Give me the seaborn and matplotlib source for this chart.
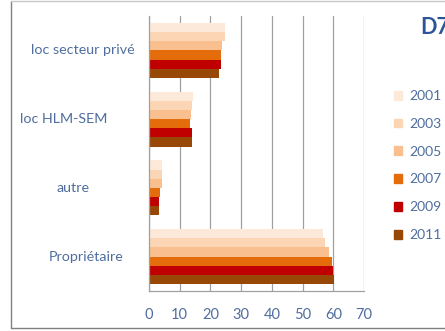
import matplotlib
matplotlib.use("Agg")
import matplotlib.pyplot as plt
import matplotlib.transforms as mtransforms
from matplotlib.lines import Line2D
import seaborn as sns
import pandas as pd

sns.set_theme(style="white")
plt.rcParams['font.family'] = ['Lato', 'DejaVu Sans']

# data
categories = ["loc secteur privé", "loc HLM-SEM", "autre", "Propriétaire"]
years = ["2001", "2003", "2005", "2007", "2009", "2011"]
values = {
    "2001": [24.8, 14.3, 4.3, 56.7],
    "2003": [24.9, 14.0, 4.1, 57.4],
    "2005": [23.9, 13.6, 4.2, 58.6],
    "2007": [23.6, 13.5, 3.5, 59.5],
    "2009": [23.5, 14.0, 3.3, 59.8],
    "2011": [22.7, 13.9, 3.3, 60.1],
}
colors = ["#FDE9D9", "#FCD5B4", "#FABF8F", "#E46C0A", "#C00000", "#974706"]

rows = []
for y in years:
    for c, v in zip(categories, values[y]):
        rows.append({"cat": c, "year": y, "val": v})
df = pd.DataFrame(rows)

text_col = "#4F6E9F"
axis_col = "#A0A0A0"

fig = plt.figure(figsize=(4.45, 3.31), dpi=100)
ax = fig.add_axes([149 / 445, 1 - 291 / 331, (364 - 149) / 445, (291 - 16) / 331])

sns.barplot(data=df, y="cat", x="val", hue="year", order=categories,
            hue_order=years, palette=colors, saturation=1, orient="h",
            width=0.8, ax=ax, legend=False, linewidth=0)

ax.set_xlim(0, 70)
ax.set_ylim(3.5, -0.5)
ax.set_xticks(range(0, 71, 10))
ax.set_yticks([-0.5, 0.5, 1.5, 2.5, 3.5])
ax.set_yticklabels([])
ax.set_xlabel("")
ax.set_ylabel("")
ax.grid(axis="x", color=axis_col, lw=0.9)
ax.grid(axis="y", visible=False)
ax.set_axisbelow(True)
for s in ["top", "right"]:
    ax.spines[s].set_visible(False)
for s in ["left", "bottom"]:
    ax.spines[s].set_color(axis_col)
    ax.spines[s].set_linewidth(0.9)
ax.tick_params(axis="both", which="both", direction="out", length=4,
               color=axis_col, width=0.9)
ax.tick_params(axis="x", labelsize=10.5, labelcolor=text_col, pad=8)

# category labels (centred as in the original)
trans = mtransforms.blended_transform_factory(fig.transFigure, ax.transData)
label_x = [83, 64, 73, 86]
for i, (c, lx) in enumerate(zip(categories, label_x)):
    ax.text(lx / 445, i, c, transform=trans, ha="center", va="center",
            fontsize=10.3, color=text_col, clip_on=False)

# legend
handles = [plt.Rectangle((0, 0), 1, 1, color=col) for col in colors]
fig.legend(handles, years, loc="upper left", bbox_to_anchor=(394 / 445, 1 - 90 / 331),
           frameon=False, borderpad=0, borderaxespad=0,
           handlelength=0.6, handleheight=0.6, handletextpad=0.5,
           labelspacing=1.14, fontsize=10, labelcolor=text_col)

fig.text(420 / 445, 1 - 28 / 331, "D7", fontsize=15.5, fontweight="bold",
         color="#2C5597", ha="left", va="center")

# outer frame
fig.add_artist(Line2D([11.3 / 445, 11.3 / 445], [1 - 328 / 331, 1 - 0.7 / 331],
                      transform=fig.transFigure, color="#808080", lw=1))
fig.add_artist(Line2D([11.3 / 445, 1], [1 - 328 / 331, 1 - 328 / 331],
                      transform=fig.transFigure, color="#808080", lw=1))
fig.add_artist(Line2D([11.3 / 445, 1], [1 - 0.7 / 331, 1 - 0.7 / 331],
                      transform=fig.transFigure, color="#C8C8C8", lw=1))

fig.savefig("out.png", dpi=100)
